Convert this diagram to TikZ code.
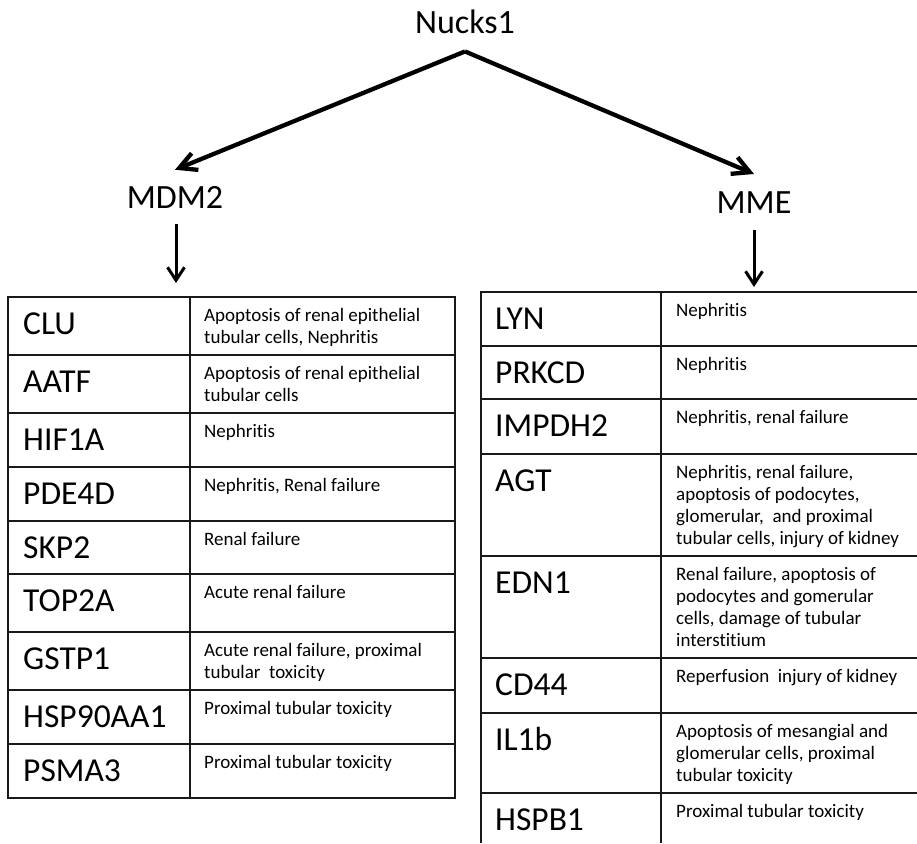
\documentclass[tikz,border=0pt]{standalone}
\usepackage{fontspec}
\setmainfont[Ligatures=NoCommon]{Carlito}
\usetikzlibrary{arrows.meta}
\tikzset{
  gene/.style={font=\fontsize{33.5}{36}\selectfont, anchor=base west, inner sep=0pt},
  desc/.style={font=\fontsize{19}{22}\selectfont, anchor=north west, inner sep=0pt, align=left},
  head/.style={font=\fontsize{34}{36}\selectfont, anchor=base, inner xsep=2pt},
  bigarrow/.style={line width=4.3pt, -{Straight Barb[length=17pt,width=18pt]}},
  downarrow/.style={line width=3pt, -{Straight Barb[length=13pt,width=17pt]}},
  grid/.style={line width=2.2pt, black!90}
}
\begin{document}
\begin{tikzpicture}[x=1pt,y=-1pt]
\useasboundingbox (0,0) rectangle (917,843);
\begin{scope}
\clip (0,0) rectangle (917,843);

% heading nodes
\node[head, inner ysep=17pt] (nucks) at (465,34) {Nucks1};
\node[head, inner ysep=16pt] (mdm2) at (175,208) {MDM2};
\node[head, inner ysep=17pt] (mme) at (754,213) {MME};
\coordinate (ltop) at (176,283);
\coordinate (rtop) at (754,287);

\draw[bigarrow] (nucks.south) -- (mdm2.north);
\draw[bigarrow] (nucks.south) -- (mme.north);
\draw[downarrow] (mdm2.south -| ltop) -- (ltop);
\draw[downarrow] (mme.south) -- (rtop);

% left table grid
\draw[grid] (8,297) rectangle (455,798);
\draw[grid] (190,297) -- (190,798);
\foreach \y in {355,413,467,521,574,632,690,744}
  \draw[grid] (8,\y) -- (455,\y);

% right table grid (runs off the right and bottom edges)
\draw[grid] (481,843) -- (481,292) -- (930,292);
\draw[grid] (661,292) -- (661,843);
\foreach \y in {346,399,454,556,658,713,793}
  \draw[grid] (481,\y) -- (930,\y);

% left table text
\node[gene] (clu)  at (23,334) {CLU};
\node[gene] (aatf) at (23,392) {AATF};
\node[gene] (hif)  at (23,450) {HIF1A};
\node[gene] (pde)  at (23,504) {PDE4D};
\node[gene] (skp)  at (23,558) {SKP2};
\node[gene] (top)  at (23,611) {TOP2A};
\node[gene] (gst)  at (23,669) {GSTP1};
\node[gene] (hsp)  at (23,727) {HSP90AA1};
\node[gene] (psm)  at (23,781) {PSMA3};

\node[desc] (dclu)  at (204,305.6) {\strut Apoptosis of renal epithelial\\tubular cells, Nephritis};
\node[desc] (daatf) at (204,363.6) {\strut Apoptosis of renal epithelial\\tubular cells};
\node[desc] (dhif)  at (204,421.6) {\strut Nephritis};
\node[desc] (dpde)  at (204,475.6) {\strut Nephritis, Renal failure};
\node[desc] (dskp)  at (204,529.6) {\strut Renal failure};
\node[desc] (dtop)  at (204,582.6) {\strut Acute renal failure};
\node[desc] (dgst)  at (204,640.6) {\strut Acute renal failure, proximal\\tubular\ \ toxicity};
\node[desc] (dhsp)  at (204,698.6) {\strut Proximal tubular toxicity};
\node[desc] (dpsm)  at (204,752.6) {\strut Proximal tubular toxicity};

% right table text
\node[gene] (lyn)  at (495,329) {LYN};
\node[gene] (prk)  at (495,383) {PRKCD};
\node[gene] (imp)  at (495,436) {IMPDH2};
\node[gene] (agt)  at (495,491) {AGT};
\node[gene] (edn)  at (495,593) {EDN1};
\node[gene] (cd)   at (495,695) {CD44};
\node[gene] (il)   at (495,750) {IL1b};
\node[gene] (hspb) at (495,830) {HSPB1};

\node[desc] (dlyn)  at (676,300.6) {\strut Nephritis};
\node[desc] (dprk)  at (676,354.6) {\strut Nephritis};
\node[desc] (dimp)  at (676,407.6) {\strut Nephritis, renal failure};
\node[desc] (dagt)  at (676,462.6) {\strut Nephritis, renal failure,\\apoptosis of podocytes,\\glomerular,\ \ and proximal\\tubular cells, injury of kidney};
\node[desc] (dedn)  at (676,564.6) {\strut Renal failure, apoptosis of\\podocytes and gomerular\\cells, damage of tubular\\interstitium};
\node[desc] (dcd)   at (676,666.6) {\strut Reperfusion\ \ injury of kidney};
\node[desc] (dil)   at (676,721.6) {\strut Apoptosis of mesangial and\\glomerular cells, proximal\\tubular toxicity};
\node[desc] (dhspb) at (676,801.6) {\strut Proximal tubular toxicity};
\end{scope}
\end{tikzpicture}
\end{document}
